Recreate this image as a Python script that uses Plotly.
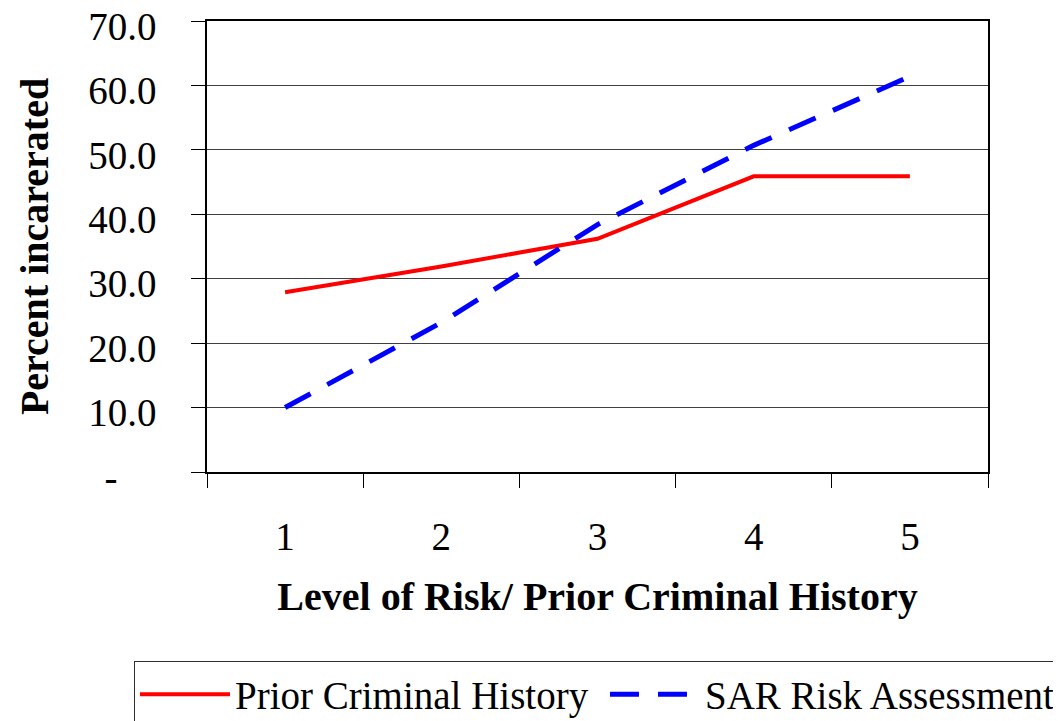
"""
    incarceration_by_risk_level.py
"""
import plotly.graph_objects as go

# Level of risk / prior criminal history categories
levels = ["1", "2", "3", "4", "5"]

# Percent incarcerated per level
prior_criminal_history = [27.9, 31.9, 36.2, 45.9, 45.9]
sar_risk_assessment = [10.0, 23.2, 38.4, 50.7, 61.4]

y_tickvals = [0, 10, 20, 30, 40, 50, 60, 70]
y_ticktext = ["-\u00a0\u00a0\u00a0\u00a0", "10.0", "20.0", "30.0", "40.0", "50.0", "60.0", "70.0"]

FONT = "Liberation Serif"

fig = go.Figure()
fig.add_trace(
    go.Scatter(
        x=levels,
        y=prior_criminal_history,
        name="Prior Criminal History",
        mode="lines",
        line={"color": "#FF0000", "width": 4},
    )
)
fig.add_trace(
    go.Scatter(
        x=levels,
        y=sar_risk_assessment,
        name="SAR Risk Assessment",
        mode="lines",
        line={"color": "#0000FF", "width": 5, "dash": "29px,19px"},
    )
)

# the page body adds an 8px offset, so margins are shifted to compensate
fig.update_layout(
    width=1061,
    height=721,
    margin={"l": 199, "r": 81, "t": 13, "b": 257, "autoexpand": False},
    paper_bgcolor="white",
    plot_bgcolor="white",
    font={"family": FONT, "color": "black", "size": 39},
    showlegend=True,
    legend={
        "orientation": "h",
        "x": -0.0935,
        "xanchor": "left",
        "y": -0.42,
        "yanchor": "top",
        "bordercolor": "#303030",
        "borderwidth": 1,
        "bgcolor": "white",
        "font": {"family": FONT, "size": 39, "color": "black"},
        "itemwidth": 90,
        "entrywidth": 365,
        "entrywidthmode": "pixels",
    },
    xaxis={
        "type": "category",
        "range": [-0.5, 4.5],
        "showgrid": False,
        "showline": True,
        "linecolor": "black",
        "linewidth": 1.5,
        "mirror": True,
        "ticks": "outside",
        "tickson": "boundaries",
        "ticklen": 14,
        "tickcolor": "black",
        "tickwidth": 1,
        "ticklabelstandoff": 29,
        "ticklabeloverflow": "allow",
        "tickfont": {"size": 39},
        "title": {
            "text": "<b>Level of Risk/ Prior Criminal History</b>",
            "font": {"size": 40},
            "standoff": 25,
        },
    },
    yaxis={
        "range": [0, 70],
        "tickvals": y_tickvals,
        "ticktext": y_ticktext,
        "showgrid": True,
        "gridcolor": "#404040",
        "gridwidth": 1,
        "zeroline": False,
        "showline": True,
        "linecolor": "black",
        "linewidth": 1.5,
        "mirror": True,
        "ticks": "outside",
        "ticklen": 14,
        "tickcolor": "black",
        "tickwidth": 1,
        "ticklabelstandoff": 27,
        "ticklabelshift": 5,
        "ticklabeloverflow": "allow",
        "tickfont": {"size": 39},
        "title": {
            "text": "<b>Percent incarerated</b>",
            "font": {"size": 40},
            "standoff": 27,
        },
    },
)

fig.write_html("out.html")
